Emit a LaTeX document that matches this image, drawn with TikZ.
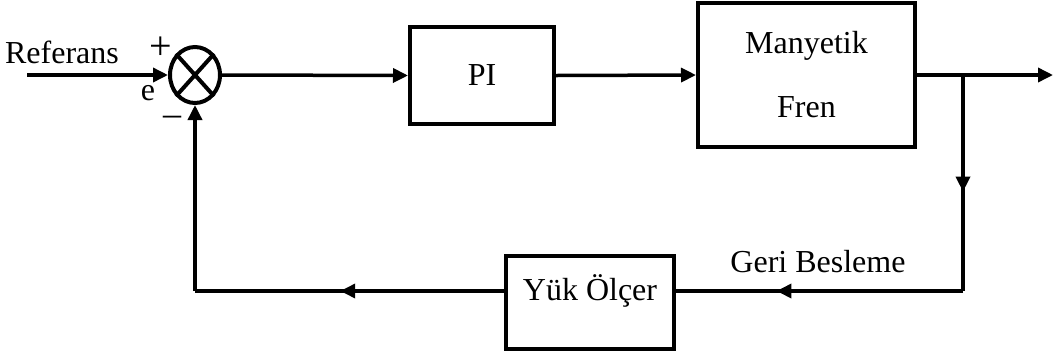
\documentclass[tikz,border=0pt]{standalone}
\usepackage{fontspec}
\setmainfont{Liberation Serif}
\usetikzlibrary{arrows.meta,shapes.geometric,decorations.markings}

\begin{document}
\begin{tikzpicture}[x=1pt,y=-1pt,
  every node/.style={font=\fontsize{32}{34}\selectfont, inner sep=0pt},
  block/.style={draw, line width=4pt, rectangle},
  wire/.style={line width=3.5pt},
  tip/.style={-{Triangle[length=15pt,width=14pt]}},
  midtip/.style={postaction={decorate},
    decoration={markings, mark=at position #1 with {\arrow{Triangle[length=15pt,width=14pt]}}}},
  lbl/.style={anchor=center}
]
\useasboundingbox (0,0) rectangle (1055,360);

% blocks
\node[draw, line width=4pt, ellipse, minimum width=50pt, minimum height=56pt] (sum) at (195,75) {};
\draw[line width=4pt] (sum.north west) -- (sum.south east)
                      (sum.north east) -- (sum.south west);
\node[block, minimum width=144pt, minimum height=97pt] (pi) at (482,75.5) {PI};
\node[block, minimum width=217pt, minimum height=144pt, align=center,
      font=\fontsize{32}{64}\selectfont] (fren) at (806.5,75) {Manyetik\\Fren};
\node[block, minimum width=168pt, minimum height=93pt] (yuk) at (590,302.5) {\raisebox{30pt}{Yük Ölçer}};

% points of the loop
\coordinate (inp) at (27,75);
\coordinate (out) at (1053,75);
\coordinate (br) at (963,75);
\coordinate (bc) at (963,291);

% forward path
\draw[wire, tip] (inp) -- (sum.west);
\draw[wire, tip] (sum.east) -- (pi.west);
\draw[wire, tip] (pi.east) -- (fren.west);
\draw[wire, tip] (fren.east |- out) -- (out);

% feedback path
\draw[wire, midtip=0.54] (br) -- (bc);
\draw[wire, midtip=0.65] (bc) -- (bc -| yuk.east);
\draw[wire, midtip=0.53] (yuk.west |- bc) -- (sum |- bc);
\draw[wire, tip] (sum |- bc) -- (sum.south);

% labels
\node[lbl] (tref) at (62,52) {Referans};
\node[lbl, font=\fontsize{40}{42}\selectfont] (tplus) at (161,48) {+};
\node[lbl] (te) at (148,93) {e};
\node[lbl, font=\fontsize{36}{38}\selectfont] (tminus) at (172,121) {–};
\node[lbl] (tgb) at (818,262) {Geri Besleme};
\end{tikzpicture}
\end{document}
